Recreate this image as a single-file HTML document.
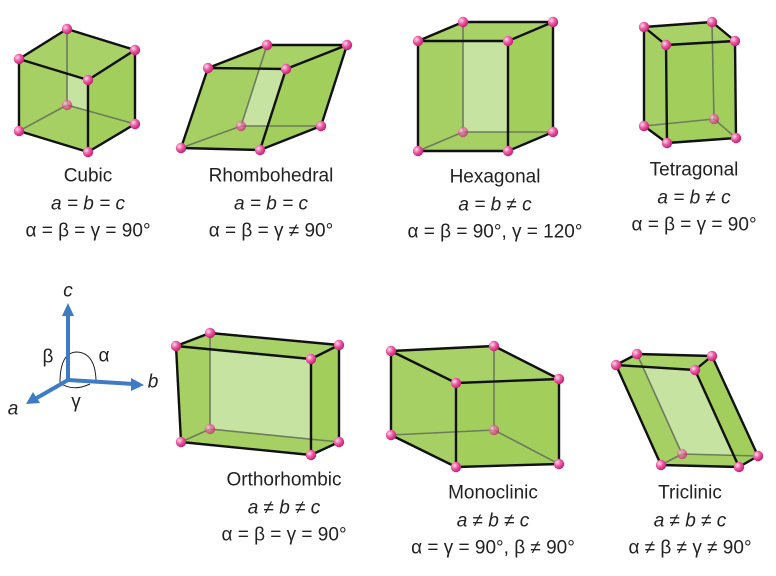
<!DOCTYPE html>
<html><head><meta charset="utf-8">
<style>
html,body{margin:0;padding:0;background:#fff;}
svg{display:block;}
text{font-family:"Liberation Sans",sans-serif;font-size:19px;fill:#222;text-anchor:middle;dominant-baseline:central;}
.it{font-style:italic;}
</style></head>
<body>
<svg id="fig" width="776" height="576" viewBox="0 0 776 576">
<defs id="defs">
<radialGradient id="ball" cx="0.35" cy="0.35" r="0.7">
<stop offset="0" stop-color="#fde0ee"/><stop offset="0.45" stop-color="#ee5fa6"/><stop offset="1" stop-color="#c2186e"/>
</radialGradient>
</defs>
<g id="cells"></g>
<g>
<path d="M60,383 Q60,352 77,352 Q95,353 96,380" fill="none" stroke="#222" stroke-width="1"/>
<path d="M60,383 Q73,392 90,384" fill="none" stroke="#222" stroke-width="1"/>
<line x1="68" y1="380" x2="68" y2="312" stroke="#3d7cc4" stroke-width="4"/>
<polygon points="68,303 62,316 74,316" fill="#3d7cc4"/>
<line x1="68" y1="380" x2="134" y2="384" stroke="#3d7cc4" stroke-width="4"/>
<polygon points="144,385 131,378 131,391" fill="#3d7cc4"/>
<line x1="68" y1="380" x2="35" y2="399" stroke="#3d7cc4" stroke-width="4"/>
<polygon points="26,404 33,392 40,403" fill="#3d7cc4"/>
<text x="68" y="291" class="it" font-size="22">c</text>
<text x="48" y="357" font-size="21">β</text>
<text x="104" y="356" font-size="21">α</text>
<text x="153" y="382" class="it" font-size="22">b</text>
<text x="13" y="409" class="it" font-size="22">a</text>
<text x="76" y="402" font-size="21">γ</text>
</g>
<g>
<text x="88" y="176">Cubic</text>
<text x="88" y="204" class="it">a = b = c</text>
<text x="88" y="231">α = β = γ = 90°</text>
<text x="271" y="176">Rhombohedral</text>
<text x="271" y="204" class="it">a = b = c</text>
<text x="271" y="231">α = β = γ ≠ 90°</text>
<text x="495" y="177">Hexagonal</text>
<text x="495" y="205" class="it">a = b ≠ c</text>
<text x="495" y="232">α = β = 90°, γ = 120°</text>
<text x="694" y="170">Tetragonal</text>
<text x="694" y="198" class="it">a = b ≠ c</text>
<text x="694" y="225">α = β = γ = 90°</text>
<text x="284" y="480">Orthorhombic</text>
<text x="284" y="508" class="it">a ≠ b ≠ c</text>
<text x="284" y="535">α = β = γ = 90°</text>
<text x="493" y="493">Monoclinic</text>
<text x="493" y="521" class="it">a ≠ b ≠ c</text>
<text x="493" y="548">α = γ = 90°, β ≠ 90°</text>
<text x="690" y="493">Triclinic</text>
<text x="690" y="521" class="it">a ≠ b ≠ c</text>
<text x="690" y="548">α ≠ β ≠ γ ≠ 90°</text>
</g>
</svg>
<script>
// top ring T0..T3, bottom ring B0..B3; vertex index 1 at bottom is hidden
const cubic = [[19,59],[67,29],[135,50],[88,80],[19,131],[67,105],[135,124],[88,152]];
const rhombohedral = [[208,68],[267,45],[347,45],[286,69],[181,148],[241,126],[321,126],[260,150]];
const hexagonal = [[418,41],[463,22],[553,22],[508,41],[418,151],[463,132],[553,132],[508,151]];
const tetragonal = [[644,27],[712,22],[735,41],[666,45],[644,126],[714,119],[736,138],[667,143]];
const orthorhombic = [[176,346],[210,333],[339,345],[311,359],[181,442],[210,429],[339,442],[311,455]];
const monoclinic = [[391,351],[494,346],[559,379],[456,383],[391,435],[494,430],[559,464],[456,467]];
const triclinic = [[616,365],[637,354],[712,356],[695,370],[661,465],[682,454],[758,456],[739,467]];
const cellNames = ['cubic','rhombohedral','hexagonal','tetragonal','orthorhombic','monoclinic','triclinic'];
const cellList = [cubic,rhombohedral,hexagonal,tetragonal,orthorhombic,monoclinic,triclinic];
const NS='http://www.w3.org/2000/svg';
const root=document.getElementById('cells');
const defs=document.getElementById('defs');
function mk(tag,attrs,parent){const e=document.createElementNS(NS,tag);for(const k in attrs)e.setAttribute(k,attrs[k]);parent.appendChild(e);return e;}
function pts(arr){return arr.map(p=>p.join(',')).join(' ');}
cellList.forEach((v,ci)=>{
  const g=mk('g',{},root);
  
  
  const T=v.slice(0,4),B=v.slice(4);
  const front=[T[0],T[3],B[3],B[0]];
  const back=[T[1],T[2],B[2],B[1]];
  mk('polygon',{points:pts([T[0],T[1],B[1],B[0]]),fill:'#a3cf5e'},g);
  mk('polygon',{points:pts([B[0],B[1],B[2],B[3]]),fill:'#98c94f'},g);
  mk('polygon',{points:pts(back),fill:'#a6d165'},g);
  mk('polygon',{points:pts(front),fill:'#a6d063'},g);
  mk('polygon',{points:pts([T[3],T[2],B[2],B[3]]),fill:'#a2ce5c'},g);
  mk('polygon',{points:pts([T[0],T[1],T[2],T[3]]),fill:'#a8d168'},g);
  const cp=mk('clipPath',{id:'cp'+ci},defs);
  mk('polygon',{points:pts(front)},cp);
  mk('polygon',{points:pts(back),fill:'#c7e3a2','clip-path':'url(#cp'+ci+')'},g);
  [[B[1],B[0]],[B[1],B[2]],[B[1],T[1]]].forEach(e=>{
    mk('line',{x1:e[0][0],y1:e[0][1],x2:e[1][0],y2:e[1][1],stroke:'#6d7c5c','stroke-width':1.6},g);
  });
  const vis=[[T[0],T[1]],[T[1],T[2]],[T[2],T[3]],[T[3],T[0]],[B[0],B[3]],[B[3],B[2]],[T[0],B[0]],[T[2],B[2]],[T[3],B[3]]];
  vis.forEach(e=>{
    mk('line',{x1:e[0][0],y1:e[0][1],x2:e[1][0],y2:e[1][1],stroke:'#111','stroke-width':2.4,'stroke-linecap':'round'},g);
  });
  v.forEach((p,i)=>{
    const c=mk('circle',{cx:p[0],cy:p[1],r:5.2,fill:'url(#ball)'},g);
    if(i===5)c.setAttribute('opacity','0.7');
    
    
  });
});
</script>
</body></html>
